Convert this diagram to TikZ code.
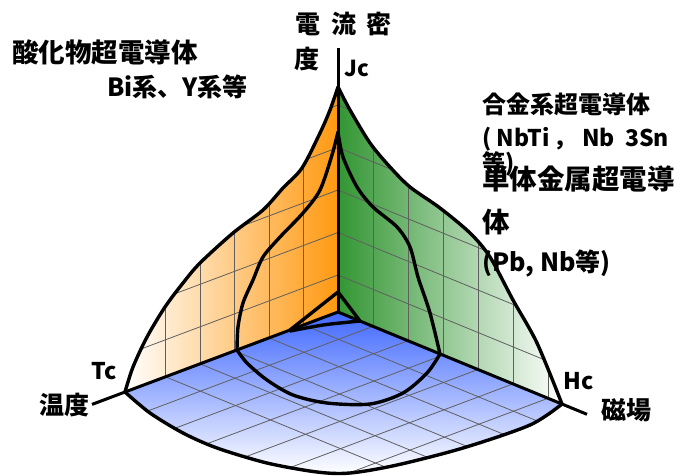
\documentclass[tikz,border=0pt]{standalone}
\usepackage{fontspec}
\setmainfont{Noto Sans CJK JP}
\definecolor{wallL}{RGB}{255,153,17}
\definecolor{wallR}{RGB}{51,150,51}
\definecolor{floorB}{RGB}{64,104,255}
\definecolor{gridc}{RGB}{95,95,95}
\begin{document}
\begin{tikzpicture}[x=1pt,y=-1pt,
  gridline/.style={draw=gridc, line width=0.8pt},
  curve/.style={line width=3.4pt, line join=round, line cap=round},
  axisline/.style={line width=3pt},
  lbl/.style={font=\bfseries\fontsize{#1}{#1}\selectfont, inner sep=0pt},
]
\useasboundingbox (0,0) rectangle (678,475);
\coordinate (O) at (338,312);
\coordinate (Tc) at (125,392);
\coordinate (Hc) at (562,404);
\coordinate (Jc) at (338,87);
\coordinate (Jtop) at (338,48);
\coordinate (Tend) at (92,404.4);
\coordinate (Hend) at (587,414.3);

% fills
\shade[left color=white, middle color=wallL!40!white, right color=wallL] (O) -- plot[smooth] coordinates {(125,392) (133,367) (147,337) (165,307) (183,283) (200,263) (233,233) (263,210) (283,188) (302,168) (320,133) (330,110) (338,87)} -- cycle;
\shade[left color=wallR, right color=white] (O) -- plot[smooth] coordinates {(338,87) (350,110) (370,143) (390,167) (410,187) (440,208) (470,233) (490,257) (513,300) (537,343) (562,404)} -- cycle;
\shade[top color=floorB, bottom color=white] (O) -- plot[smooth] coordinates {(562,404) (530,425) (463,448) (397,465) (350,473) (317,472) (267,463) (217,448) (183,433) (150,413) (125,392)} -- cycle;

% grids
\begin{scope}
  \clip (O) -- plot[smooth] coordinates {(125,392) (133,367) (147,337) (165,307) (183,283) (200,263) (233,233) (263,210) (283,188) (302,168) (320,133) (330,110) (338,87)} -- cycle;
  \foreach \k in {1,...,5} \draw[gridline] ({338-34.5*\k},{312+34.5*\k*0.3756}) -- ++(0,-350);
  \foreach \h in {275,232.5,190,147.5,105} \draw[gridline] (338,\h) -- ++(-426,160);
\end{scope}
\begin{scope}
  \clip (O) -- plot[smooth] coordinates {(338,87) (350,110) (370,143) (390,167) (410,187) (440,208) (470,233) (490,257) (513,300) (537,343) (562,404)} -- cycle;
  \foreach \k in {1,...,6} \draw[gridline] ({338+35*\k},{312+35*\k*0.4107}) -- ++(0,-400);
  \foreach \h in {275,232.5,190,147.5,105} \draw[gridline] (338,\h) -- ++(448,184);
\end{scope}
\begin{scope}
  \clip (O) -- plot[smooth] coordinates {(562,404) (530,425) (463,448) (397,465) (350,473) (317,472) (267,463) (217,448) (183,433) (150,413) (125,392)} -- cycle;
  \foreach \k in {1,...,5} \draw[gridline] ({338-34.5*\k},{312+34.5*\k*0.3756}) -- ++(448,184);
  \foreach \k in {1,...,6} \draw[gridline] ({338+35*\k},{312+35*\k*0.4107}) -- ++(-426,160);
\end{scope}

% axes
\draw[axisline] (Jtop) -- (O);
\draw[axisline] (Tend) -- (O) -- (Hend);

% outer surface
\draw[curve] plot[smooth] coordinates {(125,392) (133,367) (147,337) (165,307) (183,283) (200,263) (233,233) (263,210) (283,188) (302,168) (320,133) (330,110) (338,87)};
\draw[curve] plot[smooth] coordinates {(338,87) (350,110) (370,143) (390,167) (410,187) (440,208) (470,233) (490,257) (513,300) (537,343) (562,404)};
\draw[curve] plot[smooth] coordinates {(562,404) (530,425) (463,448) (397,465) (350,473) (317,472) (267,463) (217,448) (183,433) (150,413) (125,392)};

% middle surface
\draw[curve] plot[smooth] coordinates {(237,350) (238,327) (243,303) (253,280) (263,257) (280,237) (303,213) (320,190) (332,155) (338,132)};
\draw[curve] plot[smooth] coordinates {(338,132) (343,157) (357,187) (373,207) (397,227) (410,247) (418,277) (430,313) (440,354)};
\draw[curve] plot[smooth] coordinates {(440,354) (427,373) (403,393) (370,404) (327,403) (293,395) (267,380) (247,363) (237,350)};

% small surface
\draw[curve] (290,330) -- (338,292) -- (360,321);
\draw[curve] plot[smooth] coordinates {(290,331) (323,325) (350,322) (360,321)};

% labels
\node[lbl=25] (c1) at (307.5,24) {電};
\node[lbl=25] (c2) at (343.5,24) {流};
\node[lbl=25] (c3) at (378.5,24) {密};
\node[lbl=25] (c4) at (306.5,59) {度};
\node[lbl=22, anchor=west] (jc) at (344,68) {Jc};
\node[lbl=26.5, anchor=west] (oxide) at (12,52) {酸化物超電導体};
\node[lbl=25, anchor=west] (bi) at (107,87) {Bi系、Y系等};
\node[lbl=24, anchor=west] (alloy) at (482,104) {合金系超電導体};
\node[lbl=23, anchor=west] (alloyex) at (482,139) {( NbTi\,， Nb\ \ 3Sn};
\node[lbl=23, anchor=west] (alloyeq) at (482,164) {等)};
\node[lbl=27.5, anchor=west] (metal) at (482,179) {単体金属超電導};
\node[lbl=27.5, anchor=west] (metal2) at (482,222) {体};
\node[lbl=25, anchor=west] (metalex) at (482,264) {(Pb, Nb等)};
\node[lbl=23] (tc) at (104,371) {Tc};
\node[lbl=25] (temp) at (64,405) {温度};
\node[lbl=23] (hc) at (579,381) {Hc};
\node[lbl=25] (field) at (626,410) {磁場};
\end{tikzpicture}
\end{document}
